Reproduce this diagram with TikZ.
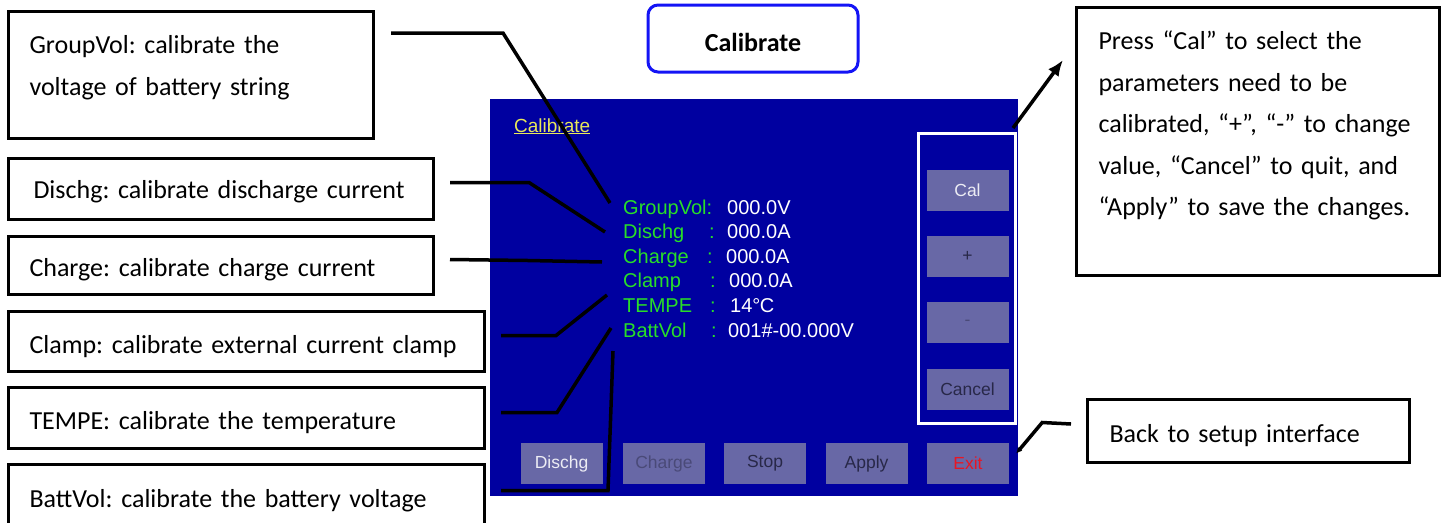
\documentclass[tikz,border=0pt]{standalone}
\usepackage{fontspec}
\setmainfont{Carlito}
\newfontfamily\lcdfont{Liberation Sans}
\usetikzlibrary{arrows.meta}
\definecolor{lcdblue}{RGB}{0,0,160}
\definecolor{lcdgreen}{RGB}{40,222,40}
\definecolor{lcdyellow}{RGB}{232,232,90}
\definecolor{keyfill}{RGB}{104,104,166}
\definecolor{keydark}{RGB}{40,40,72}
\definecolor{keygrey}{RGB}{74,74,120}
\definecolor{keylight}{RGB}{236,236,244}
\definecolor{exitred}{RGB}{232,22,36}
\definecolor{btnblue}{RGB}{20,20,245}
\begin{document}
\frenchspacing
\hyphenpenalty=10000\relax
\begin{tikzpicture}[x=1pt,y=1pt,
  note/.style={draw=black, line width=3pt, anchor=north west, align=left, inner ysep=0pt, font=\fontsize{26}{41.5}\selectfont},
  lead/.style={draw=black, line width=3.5pt},
  key/.style={fill=keyfill, minimum width=82pt, minimum height=41pt, inner sep=0pt, font=\lcdfont\fontsize{17.5}{20}\selectfont},
  fld/.style={anchor=base west, inner sep=0pt, font=\lcdfont\fontsize{20}{24}\selectfont}]
\useasboundingbox (0,0) rectangle (1445,-522);
\clip (0,0) rectangle (1445,-522);
\node[fill=lcdblue, minimum width=528pt, minimum height=397pt, inner sep=0pt, anchor=north west] (screen) at (490,-99) {};
\node[anchor=base west, inner sep=0pt, text=lcdyellow, font=\lcdfont\fontsize{19}{22}\selectfont] (scrtitle) at (514,-132) {\underline{Calibrate}};
\node[draw=btnblue, line width=3pt, rounded corners=10pt, minimum width=210pt, minimum height=67pt, inner sep=0pt, text height=26pt, text depth=0pt, font=\bfseries\fontsize{26}{30}\selectfont] (calbtn) at (753,-38.5) {Calibrate};
\node[draw=white, line width=3pt, minimum width=97pt, minimum height=290pt, inner sep=0pt, anchor=north west] (keyframe) at (917,-132) {};
\node[key, text=keylight] (kcal) at (967.5,-190) {Cal};
\node[key, text=keydark] (kplus) at (967.5,-256.5) {+};
\node[key, text=keygrey] (kminus) at (967.5,-322.5) {-};
\node[key, text=keydark] (kcancel) at (967.5,-389) {Cancel};
\node[key, text=keylight] (kdis) at (561.5,-463.5) {Dischg};
\node[key, text=keygrey] (kchg) at (664,-463.5) {Charge};
\node[key, text=keydark] (kstop) at (765,-463.5) {Stop};
\node[key, text=keydark] (kapply) at (866.5,-463.5) {Apply};
\node[key, text=exitred] (kexit) at (968,-463.5) {Exit};
\node[fld, text=lcdgreen] (lgv) at (623,-214) {GroupVol:};
\node[fld, text=white] (vgv) at (727,-214) {000.0V};
\node[fld, text=lcdgreen] (ldis) at (623,-238.6) {Dischg};
\node[fld, text=lcdgreen] (cdis) at (709,-238.6) {:};
\node[fld, text=white] (vdis) at (727,-238.6) {000.0A};
\node[fld, text=lcdgreen] (lchg) at (623,-263.2) {Charge};
\node[fld, text=lcdgreen] (cchg) at (707,-263.2) {:};
\node[fld, text=white] (vchg) at (726,-263.2) {000.0A};
\node[fld, text=lcdgreen] (lclp) at (623,-287.8) {Clamp};
\node[fld, text=lcdgreen] (cclp) at (710,-287.8) {:};
\node[fld, text=white] (vclp) at (729,-287.8) {000.0A};
\node[fld, text=lcdgreen] (ltmp) at (623,-312.4) {TEMPE};
\node[fld, text=lcdgreen] (ctmp) at (710,-312.4) {:};
\node[fld, text=white] (vtmp) at (730,-312.4) {14°\kern-0.5pt C};
\node[fld, text=lcdgreen] (lbat) at (623,-337) {BattVol};
\node[fld, text=lcdgreen] (cbat) at (711,-337) {:};
\node[fld, text=white] (vbat) at (728,-337) {001\#-00.000V};
\node[note, minimum width=365pt, minimum height=127pt, inner xsep=21pt, text width=323pt, text height=42pt, text depth=85pt] (gvbox) at (7,-10) {GroupVol: calibrate the\\voltage of battery string};
\node[note, minimum width=425pt, minimum height=61pt, inner xsep=25pt, text width=375pt, text height=40pt, text depth=21pt] (dbox) at (7,-157) {Dischg: calibrate discharge current};
\node[note, minimum width=425pt, minimum height=58pt, inner xsep=21pt, text width=383pt, text height=40pt, text depth=18pt] (cbox) at (7,-235) {Charge: calibrate charge current};
\node[note, minimum width=476pt, minimum height=60pt, inner xsep=21pt, text width=434pt, text height=42pt, text depth=18pt] (clbox) at (7,-310) {Clamp: calibrate external current clamp};
\node[note, minimum width=476pt, minimum height=61pt, inner xsep=21pt, text width=434pt, text height=42pt, text depth=19pt] (tbox) at (7,-386) {TEMPE: calibrate the temperature};
\node[note, minimum width=476pt, minimum height=70pt, inner xsep=21pt, text width=434pt, text height=43pt, text depth=27pt] (bbox) at (7,-463) {BattVol: calibrate the battery voltage};
\node[note, minimum width=363pt, minimum height=268pt, inner xsep=22pt, text width=319pt, text height=42pt, text depth=226pt] (presbox) at (1075,-6) {Press “Cal” to select the\\parameters need to be\\calibrated, “+”, “-” to change\\value, “Cancel” to quit, and\\“Apply” to save the changes.};
\node[note, minimum width=322pt, minimum height=63pt, inner xsep=22pt, text width=278pt, text height=43pt, text depth=20pt] (backbox) at (1086,-398) {Back to setup interface};
\coordinate (gvend) at (610,-203);
\coordinate (disend) at (605,-232);
\coordinate (chgend) at (602,-262);
\coordinate (clpend) at (607,-295);
\coordinate (tmpend) at (611,-328);
\coordinate (batend) at (613,-351);
\draw[lead] ([shift={(16,-23)}]gvbox.north east) -- ++(112,0) -- (gvend);
\draw[lead] ([shift={(15,6.5)}]dbox.east) -- ++(79,0) -- (disend);
\draw[lead] ([shift={(15,6)}]cbox.east) -- ++(78,-1) -- (chgend);
\draw[lead] ([shift={(15,6)}]clbox.east) -- ++(55,0) -- (clpend);
\draw[lead] ([shift={(15,5.5)}]tbox.east) -- ++(56,0) -- (tmpend);
\draw[lead] ([shift={(15,9)}]bbox.east) -- ++(107,0) -- (batend);
\draw[lead, -{Latex[length=16pt,width=13pt]}] ([shift={(-4,4)}]keyframe.north east) -- ([shift={(-12,-54)}]presbox.north west);
\draw[lead, {Latex[length=6pt,width=6pt]}-] ([shift={(7,10)}]kexit.east) -- ++(26,31) -- ([shift={(-15,7)}]backbox.west);
\end{tikzpicture}
\end{document}
